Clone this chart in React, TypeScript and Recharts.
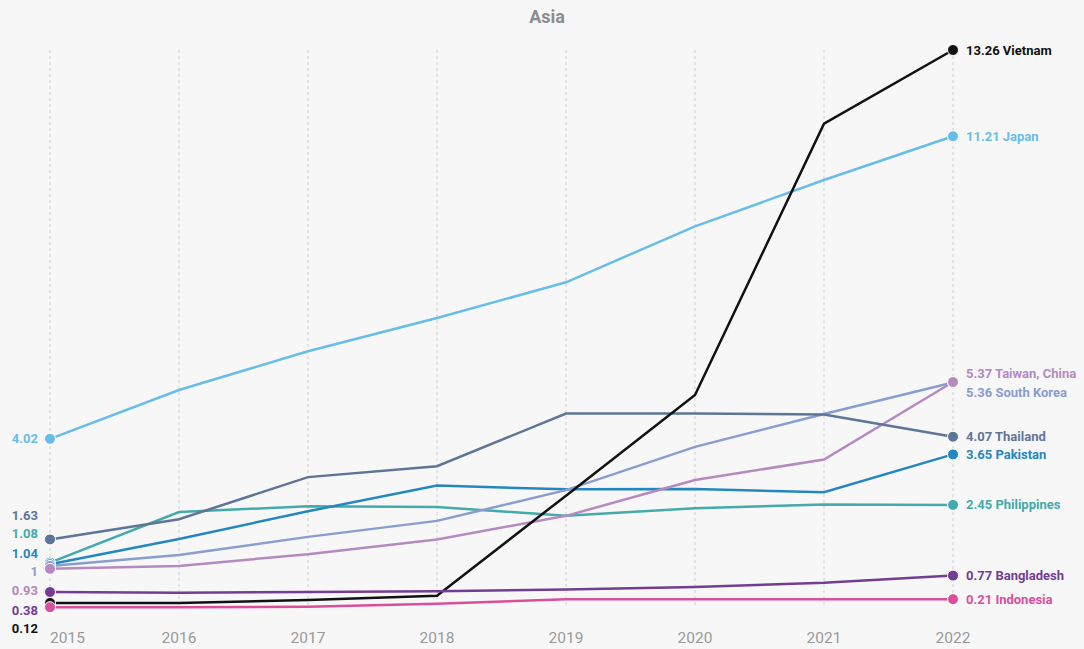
import { LineChart, Line, XAxis, YAxis, CartesianGrid } from 'recharts';

const years = ['2015', '2016', '2017', '2018', '2019', '2020', '2021', '2022'];

const vietnam = [0.12, 0.12, 0.19, 0.29, 2.67, 5.06, 11.51, 13.26];
const japan = [4.02, 5.18, 6.1, 6.89, 7.74, 9.07, 10.17, 11.21];
const thailand = [1.63, 2.11, 3.11, 3.37, 4.62, 4.62, 4.6, 4.07];
const pakistan = [1.04, 1.64, 2.3, 2.91, 2.82, 2.83, 2.75, 3.65];
const philippines = [1.08, 2.28, 2.42, 2.4, 2.19, 2.37, 2.46, 2.45];
const southKorea = [1, 1.26, 1.69, 2.07, 2.8, 3.83, 4.61, 5.36];
const taiwan = [0.93, 1.0, 1.28, 1.63, 2.19, 3.04, 3.53, 5.37];
const bangladesh = [0.38, 0.36, 0.38, 0.4, 0.44, 0.5, 0.6, 0.77];
const indonesia = [0.02, 0.02, 0.03, 0.1, 0.21, 0.21, 0.21, 0.21];

// drawing order: first = bottom
const seriesList = [
  { key: 'philippines', name: 'Philippines', color: '#44aaab', values: philippines },
  { key: 'pakistan', name: 'Pakistan', color: '#2587bf', values: pakistan },
  { key: 'southKorea', name: 'South Korea', color: '#8a9dcf', values: southKorea },
  { key: 'taiwan', name: 'Taiwan, China', color: '#b48abf', values: taiwan },
  { key: 'thailand', name: 'Thailand', color: '#5f7598', values: thailand },
  { key: 'japan', name: 'Japan', color: '#68bde8', values: japan },
  { key: 'vietnam', name: 'Vietnam', color: '#111111', values: vietnam },
  { key: 'bangladesh', name: 'Bangladesh', color: '#733d92', values: bangladesh },
  { key: 'indonesia', name: 'Indonesia', color: '#d94f9b', values: indonesia },
];

// label nudges so stacked labels don't collide
const leftDy: Record<string, number> = {
  japan: 0,
  thailand: -24,
  philippines: -29,
  pakistan: -11,
  southKorea: 6,
  taiwan: 22,
  bangladesh: 18,
  vietnam: 26,
};
const rightDy: Record<string, number> = { taiwan: -9, southKorea: 10 };

const rows = years.map((year, i) => {
  const row: Record<string, string | number> = { year };
  seriesList.forEach((s) => {
    row[s.key] = s.values[i];
  });
  return row;
});

const labelFont = 'Roboto, "Open Sans", sans-serif';

function makeDot(s: { key: string; name: string; color: string }) {
  return (props: any) => {
    const { cx, cy, index, value } = props;
    const k = `${s.key}-dot-${index}`;
    const last = years.length - 1;
    if (index !== 0 && index !== last) return <g key={k} />;
    const isLeft = index === 0;
    const showText = isLeft ? s.key in leftDy : true;
    const dy = isLeft ? leftDy[s.key] ?? 0 : rightDy[s.key] ?? 0;
    return (
      <g key={k}>
        <circle cx={cx} cy={cy} r={5.5} fill={s.color} stroke="#ffffff" strokeWidth={1} />
        {showText && (
          <text
            x={isLeft ? cx - 12 : cx + 13}
            y={cy + dy}
            textAnchor={isLeft ? 'end' : 'start'}
            dominantBaseline="central"
            fill={s.color}
            fontSize={13}
            fontWeight={700}
            fontFamily={labelFont}
          >
            {isLeft ? String(value) : `${value} ${s.name}`}
          </text>
        )}
      </g>
    );
  };
}

// first year label sits right of its gridline, the rest are centred
function YearTick(props: any) {
  const { x, y, payload, index } = props;
  return (
    <text
      x={x}
      y={y + 30}
      textAnchor={index === 0 ? 'start' : 'middle'}
      dominantBaseline="central"
      fill="#9a9a9a"
      fontSize={15.5}
      fontFamily={labelFont}
    >
      {payload.value}
    </text>
  );
}

export default function App() {
  return (
    <div
      style={{
        position: 'absolute',
        left: 0,
        top: 0,
        width: 1084,
        height: 649,
        background: '#f7f7f7',
        overflow: 'hidden',
      }}
    >
      <div
        style={{
          position: 'absolute',
          left: 0,
          top: 6,
          width: 1084,
          paddingLeft: 10,
          boxSizing: 'border-box',
          textAlign: 'center',
          fontFamily: labelFont,
          fontWeight: 700,
          fontSize: 18,
          color: '#8c8c8c',
        }}
      >
        Asia
      </div>
      <LineChart
        width={1084}
        height={649}
        data={rows}
        margin={{ top: 50, right: 131, left: 50, bottom: 0 }}
      >
        <CartesianGrid vertical horizontal={false} stroke="#cfcfcf" strokeDasharray="3 3" />
        <XAxis
          dataKey="year"
          height={41}
          axisLine={false}
          tickLine={false}
          tickSize={0}
          tickMargin={0}
          interval={0}
          tick={<YearTick />}
        />
        <YAxis hide domain={[0, 'dataMax']} />
        {seriesList.map((s) => (
          <Line
            key={s.key}
            type="linear"
            dataKey={s.key}
            stroke={s.color}
            strokeWidth={2.5}
            dot={makeDot(s)}
            activeDot={false}
            isAnimationActive={false}
          />
        ))}
      </LineChart>
    </div>
  );
}
